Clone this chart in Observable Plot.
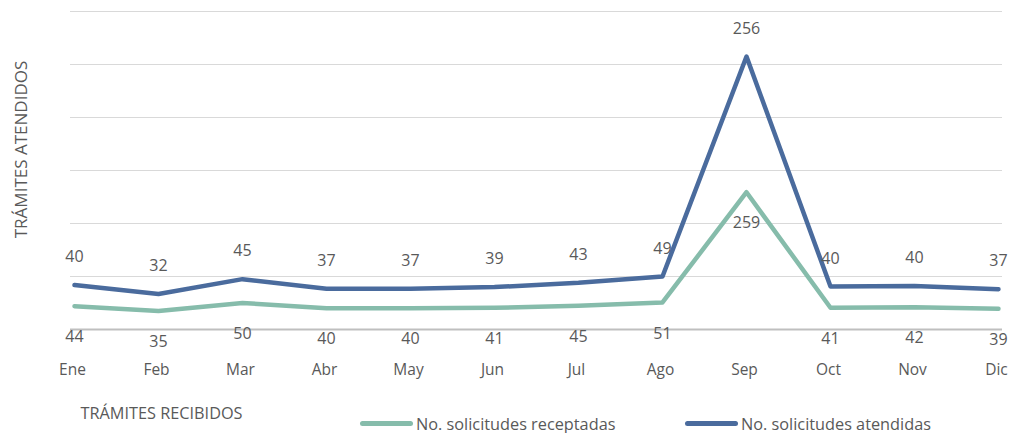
<!DOCTYPE html>
<html>
<head>
<meta charset="utf-8">
<script src="https://cdn.jsdelivr.net/npm/d3@7"></script>
<script src="https://cdn.jsdelivr.net/npm/@observablehq/plot@0.6"></script>
<style>
  html, body { margin: 0; padding: 0; background: #fff; }
  #wrap { position: relative; width: 1016px; height: 433px; overflow: hidden; font-family: "Open Sans", sans-serif; }
  #legend { position: absolute; left: 0; top: 414px; width: 1016px; height: 19px; color: #595959; font-size: 16.3px; }
  .item { position: absolute; top: 0; display: flex; align-items: center; height: 19px; white-space: nowrap; }
  .sw { width: 53px; height: 5px; border-radius: 3px; margin-right: 3px; }
</style>
</head>
<body>
<div id="wrap"></div>
<script>
const months = ["Ene","Feb","Mar","Abr","May","Jun","Jul","Ago","Sep","Oct","Nov","Dic"];
const receptadas = [44, 35, 50, 40, 40, 41, 45, 51, 259, 41, 42, 39];
const atendidas  = [40, 32, 45, 37, 37, 39, 43, 49, 256, 40, 40, 37];
const yGrid = [100, 200, 300, 400, 500, 600];
const seriesNames = ["No. solicitudes receptadas", "No. solicitudes atendidas"];
const colors = ["#86bcab", "#4a6b9d"];
const yLabel = "TRÁMITES ATENDIDOS";
const xLabel = "TRÁMITES RECIBIDOS";

// Stacked line chart (as in the original): atendidas stacked on top of receptadas
const rows = months.map((m, i) => ({
  month: m,
  rec: receptadas[i],
  ate: atendidas[i],
  top: receptadas[i] + atendidas[i]
}));

const gray = "#595959";
const plot = Plot.plot({
  width: 1016,
  height: 414,
  marginTop: 11,
  marginBottom: 85,
  marginLeft: 70,
  marginRight: 14,
  style: { fontFamily: "Open Sans, sans-serif", overflow: "visible", background: "transparent" },
  x: { type: "point", domain: months, padding: 0, label: null },
  y: { domain: [0, 600], label: null, axis: null },
  marks: [
    Plot.ruleY(yGrid, { stroke: "#d9d9d9", strokeWidth: 1 }),
    Plot.ruleY([0], { stroke: "#bfbfbf", strokeWidth: 1.8 }),
    Plot.axisX({ tickSize: 0, tickPadding: 34, fontSize: 15.5, color: gray, label: null, dx: -2 }),
    Plot.lineY(rows, { x: "month", y: "rec", stroke: colors[0], strokeWidth: 4.5, strokeLinejoin: "round", strokeLinecap: "round" }),
    Plot.lineY(rows, { x: "month", y: "top", stroke: colors[1], strokeWidth: 4.5, strokeLinejoin: "round", strokeLinecap: "round" }),
    Plot.text(rows, { x: "month", y: "top", text: "ate", dy: -28, fontSize: 16, fill: gray }),
    Plot.text(rows, { x: "month", y: "rec", text: "rec", dy: 31, fontSize: 16, fill: gray }),
    Plot.text([yLabel], { frameAnchor: "left", textAnchor: "middle", dx: -49, dy: -21, rotate: -90, fontSize: 17, fill: gray }),
    Plot.text([xLabel], { frameAnchor: "bottom-left", textAnchor: "start", dx: 10, dy: 89, fontSize: 16.3, fill: gray })
  ]
});
const wrap = document.getElementById("wrap");
wrap.appendChild(plot);

const legend = document.createElement("div");
legend.id = "legend";
const lefts = [360, 685];
seriesNames.forEach((name, i) => {
  const it = document.createElement("div");
  it.className = "item";
  it.style.left = lefts[i] + "px";
  const sw = document.createElement("span");
  sw.className = "sw";
  sw.style.background = colors[i];
  const tx = document.createElement("span");
  tx.textContent = name;
  it.appendChild(sw);
  it.appendChild(tx);
  legend.appendChild(it);
});
wrap.appendChild(legend);
</script>
</body>
</html>
